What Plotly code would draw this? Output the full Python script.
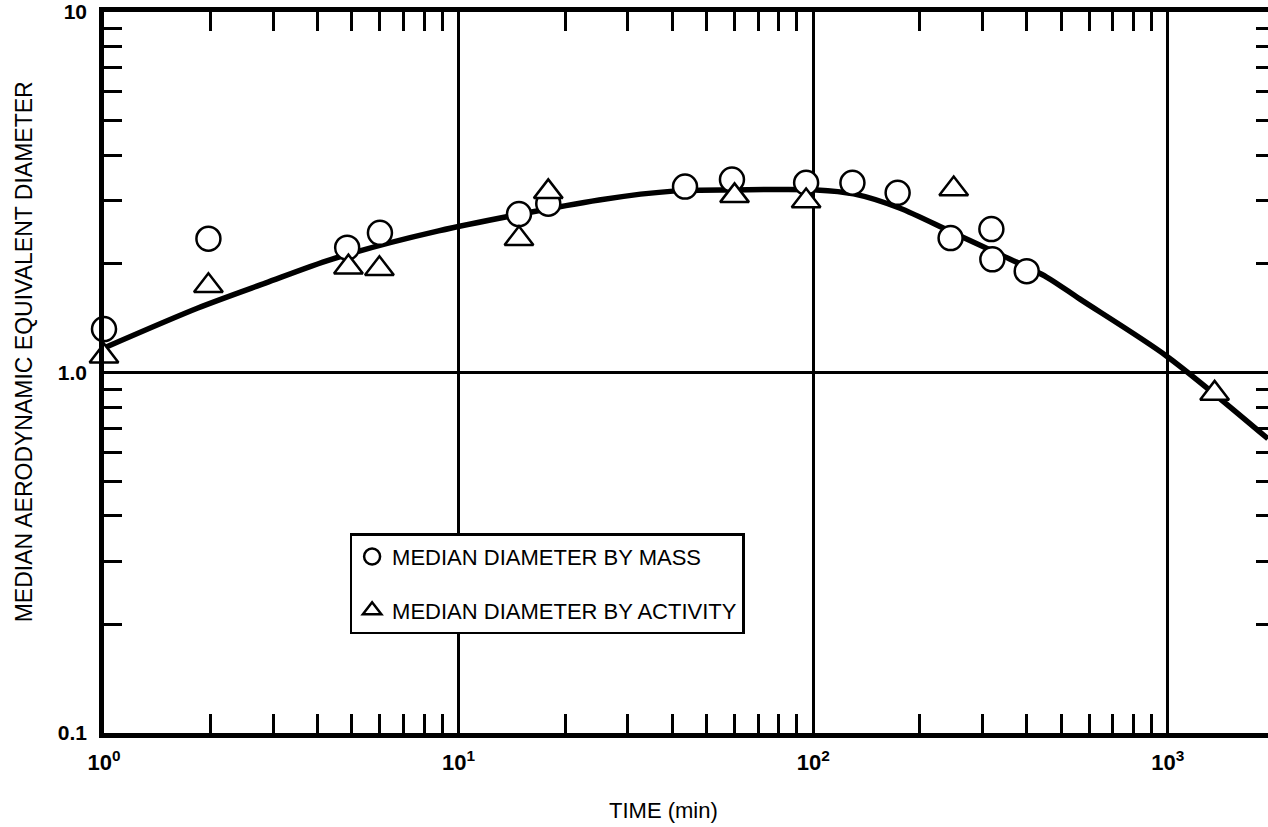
import plotly.graph_objects as go

# Median diameter by mass (open circles)
mass_time = [1.0, 1.97, 4.85, 6.0, 14.8, 17.9, 43.5, 59, 95.5, 129, 173, 244, 318, 320, 400]
mass_diam = [1.32, 2.35, 2.22, 2.44, 2.75, 2.94, 3.28, 3.43, 3.36, 3.36, 3.15, 2.36, 2.50, 2.06, 1.91]

# Median diameter by activity (open triangles)
act_time = [1.0, 1.97, 4.89, 5.98, 14.8, 17.9, 60, 95.5, 249, 1355]
act_diam = [1.11, 1.74, 1.96, 1.94, 2.35, 3.17, 3.09, 2.99, 3.23, 0.875]

# Smoothed trend curve through the data
fit_time = [1.0, 1.84, 2.85, 4.38, 8.78, 24.9, 41, 60, 102, 130, 175, 242, 335, 455, 564, 993, 1916]
fit_diam = [1.17, 1.51, 1.77, 2.06, 2.47, 3.01, 3.19, 3.21, 3.21, 3.13, 2.86, 2.47, 2.13, 1.84, 1.60, 1.11, 0.655]

# Axis ticks
x_major = [1, 10, 100, 1000]
x_major_text = ["<b>10<sup>0</sup></b>", "<b>10<sup>1</sup></b>", "<b>10<sup>2</sup></b>", "<b>10<sup>3</sup></b>"]
x_minor = [m * d for d in (1, 10, 100, 1000) for m in range(2, 10)]
y_major = [0.1, 1, 10]
y_major_text = ["<b>0.1</b>", "<b>1.0</b>", "<b>10</b>"]
y_minor = [round(m * d, 3) for d in (0.1, 1) for m in range(2, 10)]

FONT = "Liberation Sans, Arial, Helvetica, sans-serif"
X_RANGE = [0, 3.2825]
Y_RANGE = [-1, 1]

fig = go.Figure()

fig.add_trace(go.Scatter(
    x=fit_time, y=fit_diam, mode="lines",
    line=dict(color="black", width=5.5, shape="spline", smoothing=0.8),
    showlegend=False, hoverinfo="skip",
))
fig.add_trace(go.Scatter(
    x=mass_time, y=mass_diam, mode="markers", name="MEDIAN DIAMETER BY MASS",
    legendgroup="mass",
    marker=dict(symbol="circle", size=24, color="white", line=dict(color="black", width=2.5)),
    cliponaxis=False,
))
fig.add_trace(go.Scatter(
    x=act_time, y=act_diam, mode="markers", name="MEDIAN DIAMETER BY ACTIVITY",
    legendgroup="act",
    marker=dict(symbol="triangle-up", size=25, color="white", line=dict(color="black", width=2.5)),
    cliponaxis=False,
))
# empty trace so the right-hand tick axis is registered
fig.add_trace(go.Scatter(x=[], y=[], yaxis="y2", showlegend=False, hoverinfo="skip"))

fig.update_layout(
    width=1268, height=827,
    margin=dict(l=104, r=0, t=12, b=94),
    paper_bgcolor="white", plot_bgcolor="white",
    font=dict(family=FONT, color="black", size=20),
    xaxis=dict(
        type="log", range=X_RANGE,
        tickmode="array", tickvals=x_major, ticktext=x_major_text,
        ticks="inside", ticklen=19, tickwidth=2.5, tickcolor="black",
        showline=True, linewidth=4.5, linecolor="black", mirror="ticks",
        showgrid=True, gridcolor="black", gridwidth=2.5,
        zeroline=False, ticklabelstandoff=6,
        tickfont=dict(size=22, family=FONT),
        minor=dict(tickmode="array", tickvals=x_minor, ticks="inside", ticklen=19,
                   tickwidth=2.5, tickcolor="black", showgrid=False),
    ),
    yaxis=dict(
        type="log", range=Y_RANGE,
        tickmode="array", tickvals=y_major, ticktext=y_major_text,
        ticks="inside", ticklen=18, tickwidth=2.5, tickcolor="black",
        showline=True, linewidth=4.5, linecolor="black", mirror=False,
        showgrid=True, gridcolor="black", gridwidth=2.5,
        zeroline=False, ticklabelstandoff=8,
        tickfont=dict(size=21, family=FONT),
        minor=dict(tickmode="array", tickvals=y_minor, ticks="inside", ticklen=18,
                   tickwidth=2.5, tickcolor="black", showgrid=False),
    ),
    yaxis2=dict(
        type="log", range=Y_RANGE, overlaying="y", side="right", anchor="x",
        tickmode="array", tickvals=y_major, ticks="inside", ticklen=12,
        tickwidth=2.5, tickcolor="black", showticklabels=False,
        showline=False, showgrid=False, zeroline=False,
        minor=dict(tickmode="array", tickvals=y_minor, ticks="inside", ticklen=12,
                   tickwidth=2.5, tickcolor="black", showgrid=False),
    ),
    legend=dict(
        x=0.211, y=0.277, xanchor="left", yanchor="top",
        bgcolor="white", bordercolor="black", borderwidth=2.5,
        font=dict(size=22, family=FONT, color="black"),
        traceorder="grouped", tracegroupgap=22,
        itemsizing="trace",
    ),
    showlegend=True,
    annotations=[
        dict(text="TIME (min)", xref="paper", yref="paper", x=0.481, y=-0.108,
             xanchor="center", yanchor="middle", showarrow=False,
             font=dict(size=22, family=FONT, color="black")),
        dict(text="MEDIAN AERODYNAMIC EQUIVALENT DIAMETER", xref="paper", yref="paper",
             x=-0.0687, y=0.528, xanchor="center", yanchor="middle", textangle=-90,
             showarrow=False, font=dict(size=23, family=FONT, color="black")),
    ],
)

fig.write_html("out.html")
